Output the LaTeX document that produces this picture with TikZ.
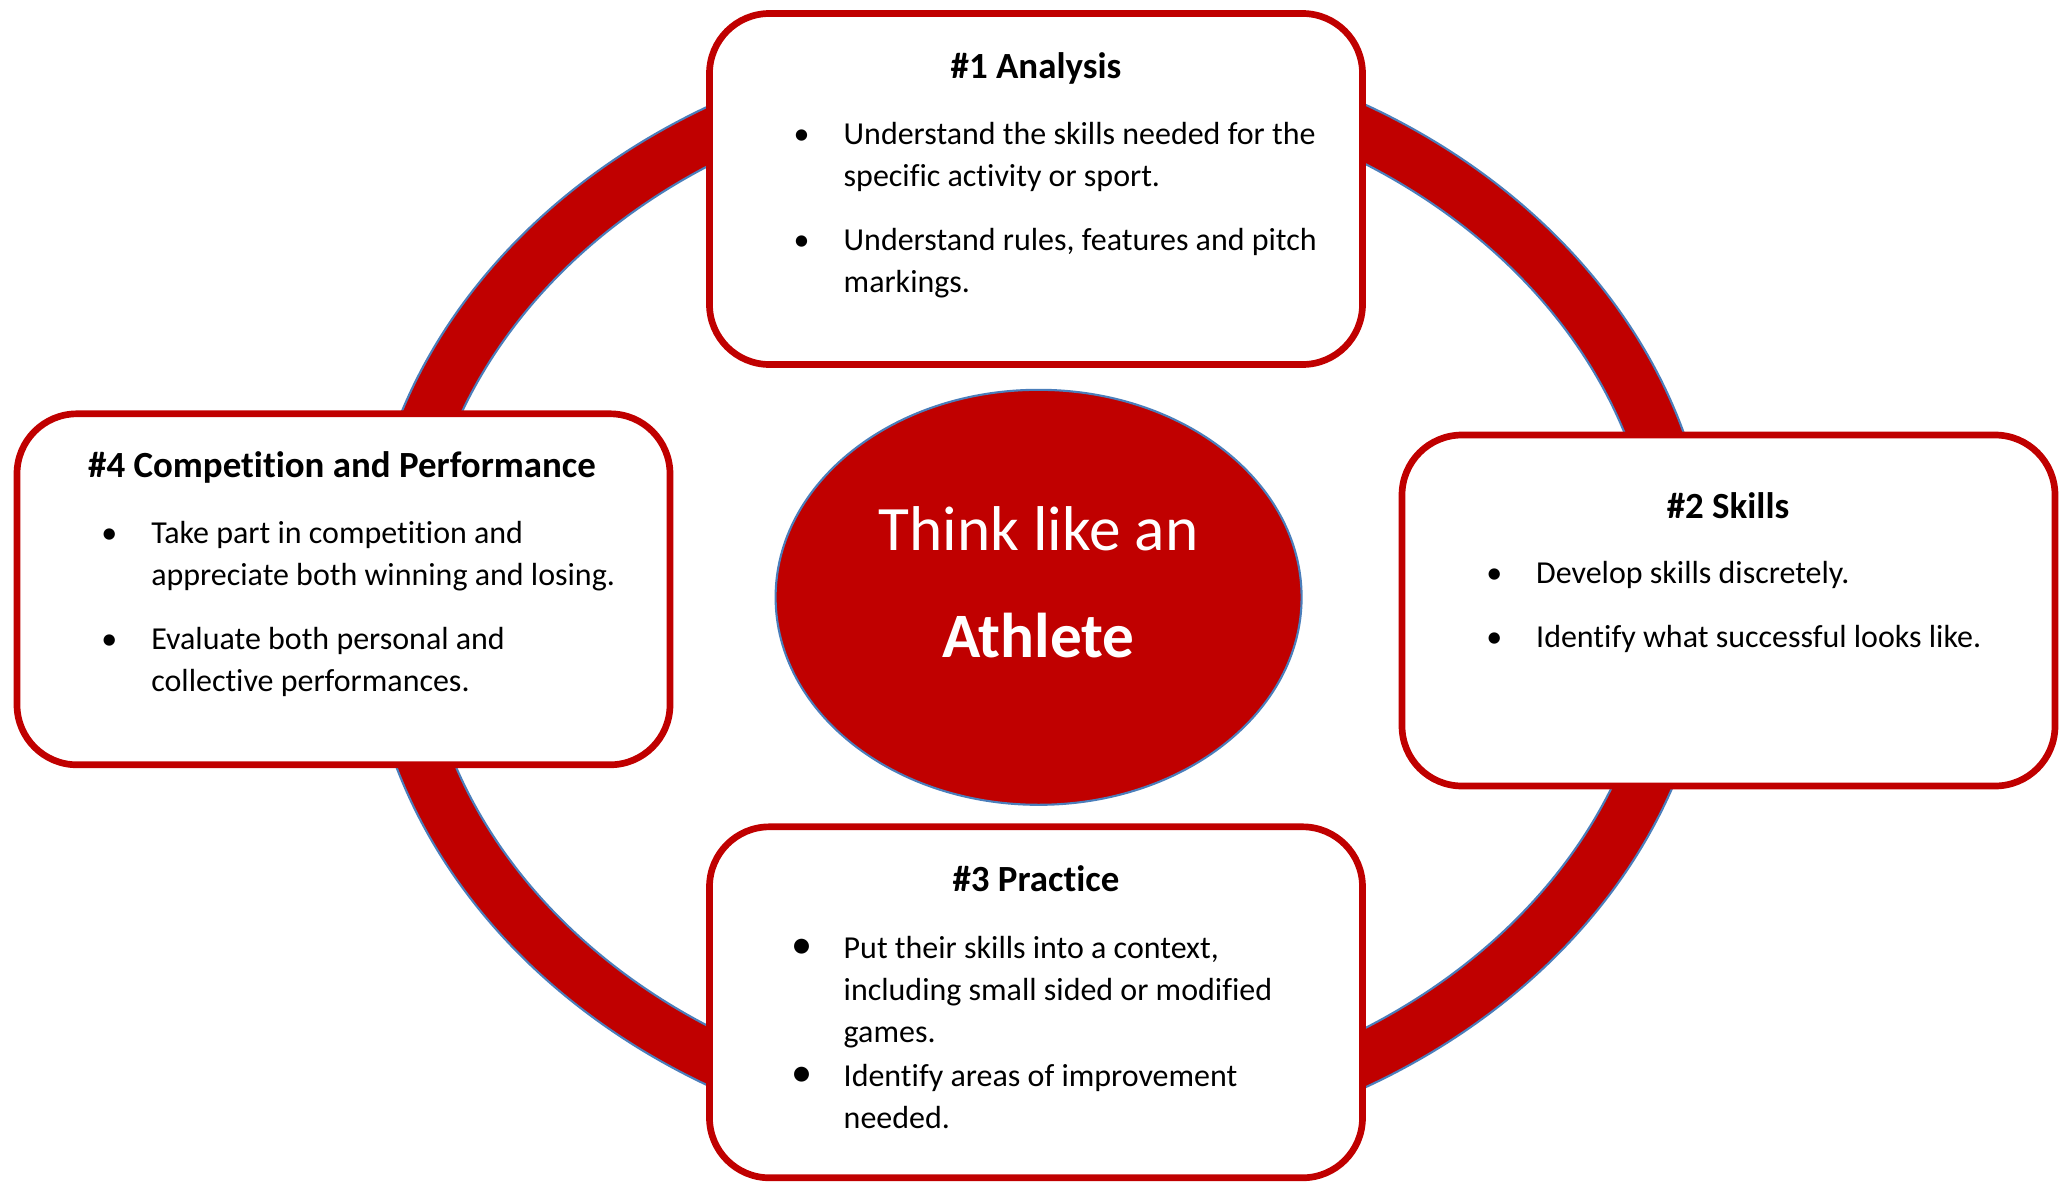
\documentclass[tikz,border=0pt]{standalone}
\usepackage{fontspec}
\setmainfont{Carlito}[Ligatures=CommonOff]
\usepackage{tikz}
\usetikzlibrary{positioning,shapes.geometric}

\definecolor{darkred}{HTML}{C00000}
\definecolor{edgeblue}{HTML}{4A7EBB}

\tikzset{
  stage/.style={draw=darkred, line width=1.9pt, fill=white, rounded corners=0.6cm,
    minimum width=6.53cm, minimum height=3.51cm, inner sep=0pt},
  stagetitle/.style={font=\fontsize{10.5}{12.6}\selectfont\bfseries, inner sep=0pt, anchor=base},
  point/.style={font=\fontsize{9.1}{12}\selectfont, align=left, inner sep=0pt, anchor=north west},
  hub/.style={ellipse, fill=darkred, draw=edgeblue, line width=0.6pt,
    minimum width=5.26cm, minimum height=4.15cm, inner sep=0pt},
  hubtext/.style={text=white, font=\fontsize{18}{21}\selectfont, inner sep=0pt, anchor=base},
}

% bullets hanging to the left of a point
\newcommand{\bul}{\llap{\makebox[0.84cm]{\textbullet}}\strut}
\newcommand{\bigbul}{\llap{\makebox[0.84cm]{\large\textbullet}}\strut}

\begin{document}
\begin{tikzpicture}
    \useasboundingbox (0,0) rectangle (20.72,11.82);

    % Draw the ring
    \coordinate (mid) at (10.386,5.86);
    \filldraw[fill=darkred, draw=edgeblue, line width=0.6pt, even odd rule]
      (mid) ellipse [x radius=6.74cm, y radius=5.616cm]
      (mid) ellipse [x radius=6.184cm, y radius=5.087cm];

    % Draw the ellipse in the center
    \node[hub] (athlete) at (10.386,5.847) {};
    \node[hubtext] (think) at (10.386,6.32) {Think like an};
    \node[hubtext, font=\fontsize{18}{21}\selectfont\bfseries] (name) at (10.386,5.25) {Athlete};

    % Draw the four stages
    \node[stage] (analysis) at (10.36,9.93) {};
    \node[stage] (skills) at (17.285,5.715) {};
    \node[stage] (practice) at (10.36,1.797) {};
    \node[stage] (competition) at (3.435,5.927) {};

    % #1 Analysis
    \node[stagetitle] (t1) at (10.36,11.04) {\#1 Analysis};
    \node[point] (a1) at (8.43,10.68) {\bul Understand the skills needed for the\\specific activity or sport.};
    \node[point] (a2) at (8.43,9.62) {\bul Understand rules, features and pitch\\markings.};

    % #2 Skills
    \node[stagetitle] (t2) at (17.28,6.64) {\#2 Skills};
    \node[point] (b1) at (15.355,6.29) {\bul Develop skills discretely.};
    \node[point] (b2) at (15.355,5.65) {\bul Identify what successful looks like.};

    % #3 Practice
    \node[stagetitle] (t3) at (10.36,2.91) {\#3 Practice};
    \node[point] (c1) at (8.43,2.54) {\bigbul Put their skills into a context,\\including small sided or modified\\games.};
    \node[point] (c2) at (8.43,1.26) {\bigbul Identify areas of improvement\\needed.};

    % #4 Competition and Performance
    \node[stagetitle] (t4) at (3.42,7.05) {\#4 Competition and Performance};
    \node[point] (d1) at (1.506,6.69) {\bul Take part in competition and\\appreciate both winning and losing.};
    \node[point] (d2) at (1.506,5.63) {\bul Evaluate both personal and\\collective performances.};

\end{tikzpicture}
\end{document}
